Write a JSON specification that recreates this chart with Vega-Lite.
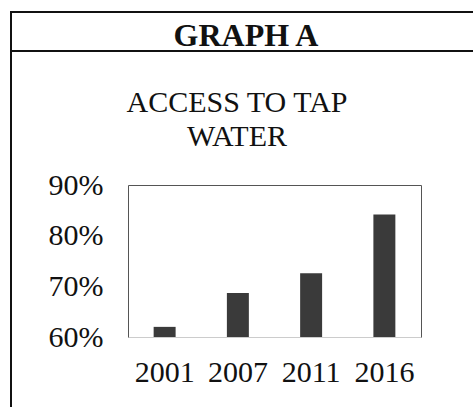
{
  "$schema": "https://vega.github.io/schema/vega-lite/v6.json",
  "padding": {"left": 10, "top": 11, "right": 0, "bottom": 0},
  "spacing": 0,
  "bounds": "flush",
  "background": "white",
  "config": {
    "font": "Liberation Serif",
    "title": {"font": "Liberation Serif"},
    "view": {"stroke": "#111", "strokeWidth": 2},
    "axis": {"grid": false}
  },
  "vconcat": [
    {
      "width": 480,
      "height": 39,
      "view": {"stroke": "#111", "strokeWidth": 2, "fill": "white"},
      "data": {"values": [{"label": "GRAPH A"}]},
      "mark": {"type": "text", "fontSize": 32, "fontWeight": "bold", "font": "Liberation Serif", "baseline": "alphabetic", "dx": -5, "dy": 14, "color": "#111"},
      "encoding": {"text": {"field": "label"}}
    },
    {
      "width": 480,
      "height": 360,
      "title": {"text": ["ACCESS TO TAP", "WATER"], "fontSize": 30, "fontWeight": "normal", "font": "Liberation Serif", "color": "#111", "offset": -101, "dx": -14, "lineHeight": 34, "anchor": "middle", "frame": "group"},
      "data": {"values": [
        {"year": "2001", "value": 62.0},
        {"year": "2007", "value": 68.7},
        {"year": "2011", "value": 72.6},
        {"year": "2016", "value": 84.2}
      ]},
      "layer": [
        {
          "mark": {"type": "bar", "color": "#3a3a3a"},
          "encoding": {
            "x": {"field": "year", "type": "nominal", "sort": null,
              "scale": {"range": [117, 410], "paddingInner": 0.7, "paddingOuter": 0.35},
              "axis": {"orient": "bottom", "offset": -74, "title": null, "labelAngle": 0, "labelFontSize": 30, "labelColor": "#111", "labelPadding": 20, "ticks": false, "tickSize": 0, "domainColor": "#cccccc", "domainWidth": 1}},
            "y": {"field": "value", "type": "quantitative",
              "scale": {"domain": [60, 90], "range": [286, 134], "nice": false, "zero": false},
              "axis": {"orient": "left", "offset": -117, "title": null, "values": [60, 70, 80, 90], "labelExpr": "datum.value + '%'", "labelFontSize": 30, "labelColor": "#111", "labelPadding": 25, "ticks": false, "tickSize": 0, "domainColor": "#555", "domainWidth": 1}},
            "y2": {"datum": 60}
          }
        },
        {
          "mark": {"type": "bar", "opacity": 0},
          "encoding": {
            "x": {"field": "year", "type": "nominal", "sort": null,
              "axis": {"orient": "top", "offset": -134, "title": null, "labels": false, "ticks": false, "tickSize": 0, "domainColor": "#555", "domainWidth": 1}},
            "y": {"field": "value", "type": "quantitative",
              "axis": {"orient": "right", "offset": -70, "title": null, "labels": false, "ticks": false, "tickSize": 0, "domainColor": "#555", "domainWidth": 1}},
            "y2": {"datum": 60}
          }
        }
      ],
      "resolve": {"axis": {"x": "independent", "y": "independent"}}
    }
  ]
}
